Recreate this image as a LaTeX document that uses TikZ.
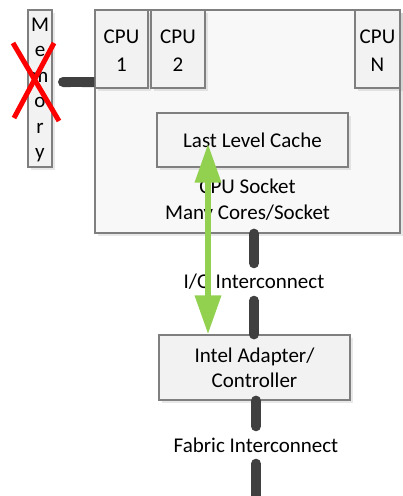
\documentclass[tikz,border=0pt]{standalone}
\usepackage{fontspec}
\setmainfont{Carlito}
\usetikzlibrary{arrows.meta,shadows}
\definecolor{boxfill}{HTML}{F2F2F2}
\definecolor{sockfill}{HTML}{F8F8F8}
\definecolor{boxline}{HTML}{7F7F7F}
\definecolor{linkgray}{HTML}{404040}
\definecolor{iogreen}{HTML}{92D050}
\begin{document}
\begin{tikzpicture}[x=1pt,y=-1pt,
    box/.style={draw=boxline,fill=boxfill,line width=1.2pt,inner sep=0pt,
        drop shadow={opacity=0.18,shadow xshift=2.5pt,shadow yshift=-2.5pt}},
    txt/.style={font=\fontsize{21}{28}\selectfont,align=center,inner sep=0pt},
    lbl/.style={font=\fontsize{21}{26}\selectfont,inner sep=0pt,minimum height=37pt},
    link/.style={draw=linkgray,line width=10pt,line cap=round}]
    \useasboundingbox (0,0) rectangle (403,496);
    %% Socket and memory
    \node[box,fill=sockfill,minimum width=305,minimum height=223] (socket) at (247.5,121.5) {};
    \node[box,minimum width=24,minimum height=157] (mem) at (40,88.5) {};
    \node[txt,font=\fontsize{21}{25.5}\selectfont] (memtxt) at (40,90) {M\\e\\m\\o\\r\\y};
    \coordinate (memend) at (58,82);
    \node[box,minimum width=53,minimum height=78] (cpu1) at (121.5,49) {};
    \node[txt] at ([yshift=-1.5pt]cpu1) {CPU\\1};
    \draw[link,line cap=butt,{Round Cap[]}-{Butt Cap[]}] (memend) -- (memend -| cpu1.west);
    \node[box,minimum width=54,minimum height=78] (cpu2) at (178,49) {};
    \node[txt] at ([yshift=-1.5pt]cpu2) {CPU\\2};
    \node[box,minimum width=45,minimum height=78] (cpun) at (377.5,49) {};
    \node[txt] at ([yshift=-1.5pt]cpun) {CPU\\N};
    \node[box,fill=boxfill!60!sockfill,minimum width=191,minimum height=54] (llc) at (252.5,140) {};
    \node[txt] at (llc) {Last Level Cache};
    \node[txt,font=\fontsize{21}{26}\selectfont] (socktxt) at (247.5,201) {CPU Socket\\Many Cores/Socket};
    %% Adapter
    \node[box,minimum width=191,minimum height=65] (adapter) at (254.5,367.5) {};
    \node[txt,font=\fontsize{21}{25}\selectfont] at (adapter) {Intel Adapter/\\Controller};
    %% Interconnects
    \node[lbl] (iolbl) at (254,282) {I/O Interconnect};
    \node[lbl] (fablbl) at (256,445) {Fabric Interconnect};
    \coordinate (fabend) at (256,501);
    \draw[link] (socket.south -| iolbl) -- (iolbl);
    \draw[link] (iolbl) -- (adapter.north -| iolbl);
    \draw[link] (adapter.south -| fablbl) -- (fablbl);
    \draw[link] (fablbl) -- (fabend);
    %% Vectors
    \coordinate (gx) at (208,0);
    \draw[iogreen,line width=6.5pt,{Triangle[width=25pt,length=39pt]}-{Triangle[width=25pt,length=39pt]}]
        ([yshift=24pt]llc.south -| gx) -- (adapter.north -| gx);
    %% Crossed out memory
    \draw[red,line width=5pt] (13,43) -- (59,121);
    \draw[red,line width=5pt] (54,43) -- (14,118);
\end{tikzpicture}
\end{document}
